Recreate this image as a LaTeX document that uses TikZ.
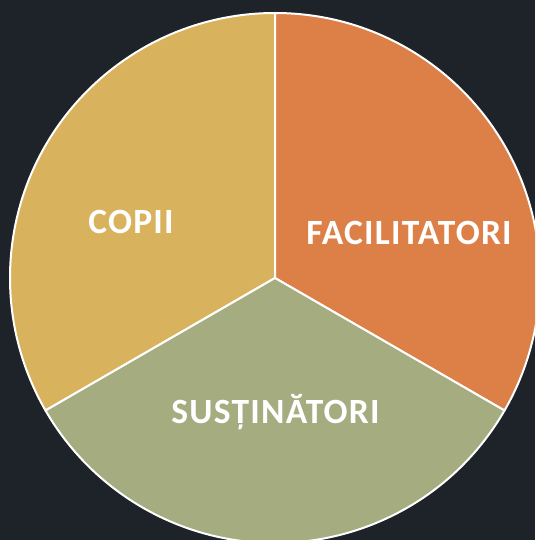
\documentclass[tikz,border=0pt]{standalone}
\usepackage{fontspec}
\setmainfont{Carlito}
\newfontfamily\lblfont[LetterSpace=3.5]{Carlito}
\usetikzlibrary{calc}
\definecolor{bg}{RGB}{30,35,42}
\definecolor{cyel}{RGB}{217,178,94}
\definecolor{corg}{RGB}{221,128,72}
\definecolor{cgrn}{RGB}{164,172,128}
\begin{document}
\begin{tikzpicture}[x=1pt,y=-1pt,
  sector/.style={draw=white,line width=2pt,line join=round},
  lbl/.style={text=white,font=\lblfont\fontsize{35.5}{40}\selectfont\bfseries,anchor=base,inner sep=0pt}]
\useasboundingbox (0,0) rectangle (535,540);
\fill[bg] (0,0) rectangle (535,540);
\begin{scope}
\clip (0,0) rectangle (535,540);
\coordinate (c) at (275,278);
\def\R{265}
\filldraw[sector,fill=cyel] (c) -- (275,13) arc[start angle=-90,end angle=-210,radius=\R] -- cycle;
\filldraw[sector,fill=corg] (c) -- (275,13) arc[start angle=-90,end angle=30,radius=\R] -- cycle;
\filldraw[sector,fill=cgrn] (c) -- ($(c)+(30:\R)$) arc[start angle=30,end angle=150,radius=\R] -- cycle;
\end{scope}
\node[lbl] (copii) at (131,233) {COPII};
\node[lbl] (facil) at (409,244) {FACILITATORI};
\node[lbl] (sust) at (275.5,423) {SUSȚINĂTORI};
\end{tikzpicture}
\end{document}
